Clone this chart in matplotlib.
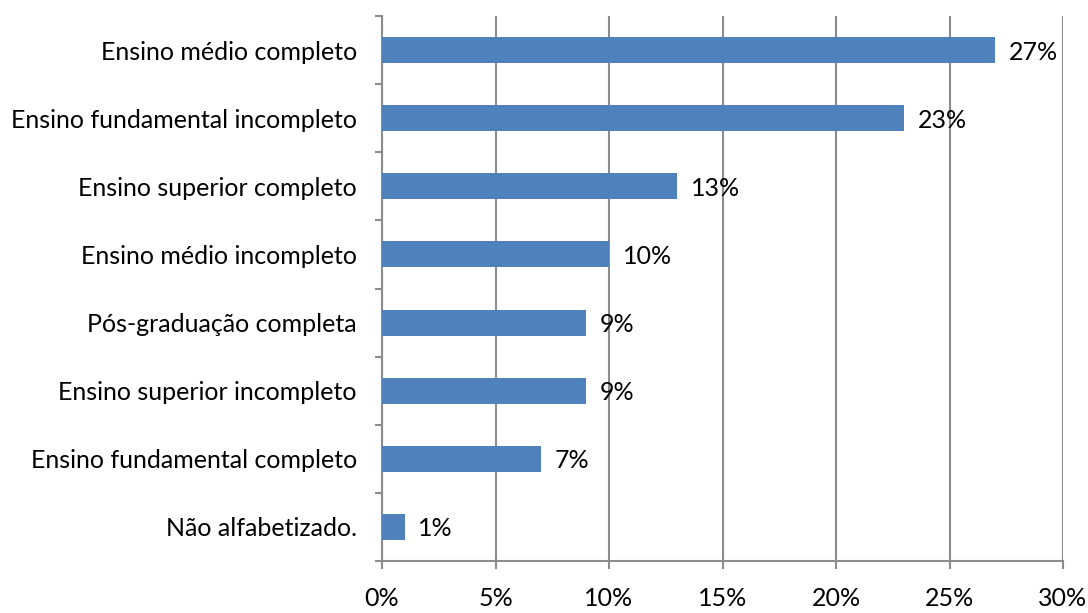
import matplotlib
matplotlib.use("Agg")
import matplotlib.pyplot as plt

categories = ["Não alfabetizado.", "Ensino fundamental completo", "Ensino superior incompleto",
              "Pós-graduação completa", "Ensino médio incompleto", "Ensino superior completo",
              "Ensino fundamental incompleto", "Ensino médio completo"]
values = [1, 7, 9, 9, 10, 13, 23, 27]
xticks = [0, 5, 10, 15, 20, 25, 30]
xtick_labels = ["0%", "5%", "10%", "15%", "20%", "25%", "30%"]

plt.rcParams['font.family'] = ['Lato', 'DejaVu Sans']
fig = plt.figure(figsize=(10.88, 6.13), dpi=100)
ax = fig.add_axes([382/1088, (613-561)/613, (1063-382)/1088, (561-16)/613])

grid_c = '#8c8c8c'
fs = 18
ax.barh(range(len(values)), values, height=0.38, color='#4f81bd', zorder=3)
ax.set_xlim(0, 30)
ax.set_ylim(-0.5, len(values) - 0.5)
ax.set_xticks(xticks)
ax.set_xticklabels(xtick_labels, fontsize=fs)
ax.set_yticks(range(len(values)))
ax.set_yticklabels(categories, fontsize=fs)
ax.tick_params(axis='y', length=0, pad=18)
ax.tick_params(axis='x', length=5.8, color=grid_c, width=1.5, pad=13)
# minor ticks between categories on y-axis
ax.set_yticks([i - 0.5 for i in range(len(values) + 1)], minor=True)
ax.tick_params(axis='y', which='minor', length=5, color=grid_c, width=1.5)
ax.grid(axis='x', color=grid_c, linewidth=1.5, zorder=0)
for s in ['top', 'right']:
    ax.spines[s].set_visible(False)
for s in ['left', 'bottom']:
    ax.spines[s].set_color(grid_c)
    ax.spines[s].set_linewidth(1.5)

for i, v in enumerate(values):
    ax.text(v + 0.6, i - 0.03, f"{v}%", va='center', ha='left', fontsize=fs, zorder=4)

fig.savefig("out.png", dpi=100)
